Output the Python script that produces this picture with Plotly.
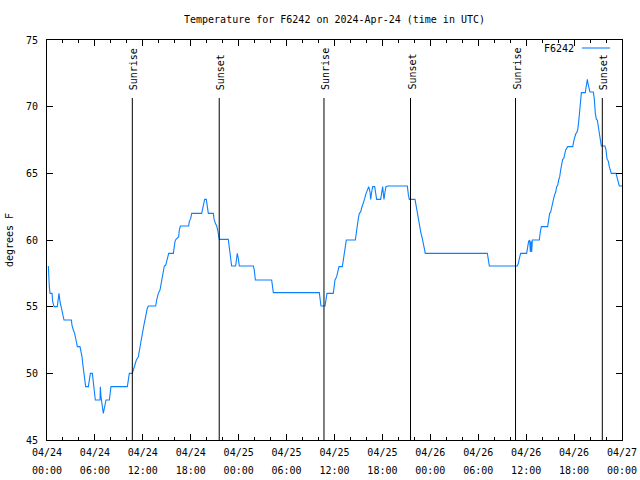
import pandas as pd
import plotly.graph_objects as go

# ---- data (hours since 2024-04-24 00:00 UTC, temperature in degrees F) ----
hours = [
    0.17, 0.20, 0.29, 0.38, 0.63, 0.71, 0.88, 1.29, 1.35, 1.50, 1.63, 1.75, 1.84, 1.96, 2.13,
    3.05, 3.13, 3.30, 3.46, 3.63, 3.80, 4.13, 4.22, 4.38, 4.47, 4.59, 4.72, 4.84, 5.18, 5.30,
    5.43, 5.68, 5.80, 5.93, 6.05, 6.64, 6.68, 6.76, 6.89, 7.05, 7.22, 7.39, 7.81, 7.89, 8.01,
    10.06, 10.18, 10.31, 10.68, 10.81, 11.02, 11.19, 11.44, 11.56, 11.80, 12.10, 12.40, 12.56,
    12.69, 13.61, 13.73, 13.94, 14.15, 14.27, 14.40, 14.57, 14.69, 14.86, 14.99, 15.11, 15.24,
    15.82, 15.90, 16.03, 16.15, 16.49, 16.57, 16.70, 17.74, 17.82, 17.99, 18.12, 19.37, 19.49,
    19.66, 19.74, 19.95, 20.04, 20.20, 20.83, 20.91, 21.08, 21.25, 21.37, 21.50, 21.58, 22.70,
    22.79, 22.92, 23.04, 23.12, 23.62, 23.71, 23.83, 23.96, 24.08, 25.84, 25.96, 26.09, 28.13,
    28.22, 28.34, 34.10, 34.18, 34.31, 34.81, 34.94, 35.06, 35.85, 35.94, 36.06, 36.27, 36.44,
    36.56, 36.98, 37.11, 37.23, 37.36, 37.48, 38.61, 38.69, 38.82, 38.98, 39.11, 39.28, 39.40,
    39.53, 39.65, 39.78, 39.90, 40.03, 40.15, 40.28, 40.45, 40.53, 40.66, 40.78, 41.03, 41.16,
    41.28, 41.78, 41.86, 42.03, 42.11, 42.20, 42.32, 42.45, 42.66, 45.12, 45.25, 45.37, 46.08,
    46.21, 46.33, 46.46, 46.58, 46.71, 46.83, 47.00, 47.12, 47.25, 47.37, 55.14, 55.26, 55.39,
    58.89, 59.02, 59.14, 59.31, 60.06, 60.19, 60.31, 60.44, 60.52, 60.61, 60.69, 60.77, 61.65,
    61.77, 61.90, 62.69, 62.82, 62.94, 63.07, 63.19, 63.32, 63.44, 63.57, 63.70, 63.82, 63.95,
    64.07, 64.20, 64.32, 64.45, 64.57, 64.70, 64.82, 64.95, 65.20, 65.83, 65.95, 66.08, 66.20,
    66.33, 66.45, 66.58, 66.70, 66.83, 66.91, 67.41, 67.49, 67.58, 67.66, 67.74, 67.83, 67.99,
    68.41, 68.53, 68.66, 68.79, 68.91, 69.04, 69.16, 69.29, 69.41, 69.87, 70.00, 70.12, 70.29,
    70.41, 70.54, 70.66, 71.25, 71.33, 71.41, 71.54, 71.66, 72.00,
]
temps = [
    58.05, 57.5, 56.5, 56.0, 56.0, 55.37, 55.0, 55.0, 55.37, 56.0, 55.37, 55.0, 54.62, 54.25, 54.0,
    54.0, 53.6, 53.25, 53.0, 52.5, 52.0, 52.0, 51.75, 51.25, 50.75, 50.25, 49.75, 49.0, 49.0, 49.6,
    50.0, 50.0, 49.25, 48.75, 48.0, 48.0, 49.0, 48.25, 47.75, 47.0, 47.5, 48.0, 48.0, 48.5, 49.0,
    49.0, 49.6, 50.0, 50.0, 50.25, 50.75, 51.0, 51.25, 51.75, 52.5, 53.5, 54.5, 54.88,
    55.05, 55.05, 55.5, 56.0, 56.25, 56.6, 57.1, 57.75, 58.05, 58.1, 58.5, 58.75, 59.0,
    59.0, 59.5, 59.9, 60.05, 60.25, 60.75, 61.05, 61.05, 61.4, 61.6, 62.0, 62.0, 62.4,
    62.7, 63.05, 63.05, 62.75, 62.0, 62.0, 61.6, 61.25, 61.05, 60.75, 60.4, 60.05, 60.05,
    59.5, 58.75, 58.25, 58.05, 58.05, 58.6, 59.0, 58.6, 58.05, 58.05, 57.75, 57.0, 57.0,
    56.6, 56.05, 56.05, 55.6, 55.05, 55.05, 55.6, 56.0, 56.0, 56.6, 57.0, 57.25, 57.6,
    58.0, 58.0, 58.5, 58.9, 59.25, 60.0, 60.0, 60.4, 61.1, 61.6, 62.0, 62.1, 62.4,
    62.6, 62.9, 63.1, 63.4, 63.6, 63.9, 64.0, 63.6, 63.05, 63.6, 64.0, 64.0, 63.6,
    63.05, 63.05, 63.5, 64.0, 63.5, 63.05, 63.6, 64.0, 64.05, 64.05, 63.4, 63.05, 63.05,
    62.6, 62.0, 61.5, 61.1, 60.9, 60.5, 60.1, 59.75, 59.4, 59.0, 59.0, 58.5, 58.05,
    58.05, 58.25, 58.6, 59.0, 59.0, 59.4, 59.9, 60.0, 59.1, 59.9, 59.1, 60.0, 60.0,
    60.6, 61.0, 61.0, 61.4, 62.0, 62.1, 62.5, 62.9, 63.1, 63.4, 63.6, 64.0, 64.1,
    64.5, 64.75, 65.25, 65.75, 66.05, 66.1, 66.4, 66.75, 67.0, 67.0, 67.4, 67.75, 67.95,
    68.05, 68.25, 68.9, 69.5, 70.5, 71.05, 71.05, 71.4, 71.75, 72.05, 71.75, 71.4, 71.1,
    71.1, 70.6, 69.5, 69.05, 69.0, 68.5, 67.9, 67.25, 67.05, 67.05, 66.75, 66.1, 65.9,
    65.5, 65.1, 65.0, 65.0, 64.8, 64.55, 64.25, 64.05, 64.05,
]

sunrise_times = ["2024-04-24 10:41", "2024-04-25 10:41", "2024-04-26 10:40"]
sunset_times = ["2024-04-24 21:34", "2024-04-25 21:31", "2024-04-26 21:32"]

x_tick_vals = ["2024-04-24 00:00", "2024-04-24 06:00", "2024-04-24 12:00", "2024-04-24 18:00",
               "2024-04-25 00:00", "2024-04-25 06:00", "2024-04-25 12:00", "2024-04-25 18:00",
               "2024-04-26 00:00", "2024-04-26 06:00", "2024-04-26 12:00", "2024-04-26 18:00",
               "2024-04-27 00:00"]
x_tick_dates = ["04/24", "04/24", "04/24", "04/24", "04/25", "04/25", "04/25", "04/25",
                "04/26", "04/26", "04/26", "04/26", "04/27"]
x_tick_clock = ["00:00", "06:00", "12:00", "18:00", "00:00", "06:00", "12:00", "18:00",
                "00:00", "06:00", "12:00", "18:00", "00:00"]
y_tick_vals = [45, 50, 55, 60, 65, 70, 75]

series_name = "F6242"
title_text = "Temperature for F6242 on 2024-Apr-24 (time in UTC)"

# ---- figure ----
LINE_COLOR = "#0a80ff"
FONT = "DejaVu Sans Mono"
base = pd.Timestamp("2024-04-24 00:00")
times = [base + pd.Timedelta(hours=h) for h in hours]
x_range = ["2024-04-24 00:00", "2024-04-27 00:00"]
y_range = [45, 75]

fig = go.Figure()
fig.add_trace(go.Scatter(x=times, y=temps, mode="lines", name=series_name,
                         line=dict(color=LINE_COLOR, width=1.1), showlegend=False,
                         hoverinfo="skip"))
# empty trace that only carries the second row of time labels
fig.add_trace(go.Scatter(x=[], y=[], xaxis="x2", yaxis="y2", showlegend=False, hoverinfo="skip"))

top_line = (440 - 98) / 400
label_y = (440 - 92) / 400
for t, lab in [(s, "Sunrise") for s in sunrise_times] + [(s, "Sunset") for s in sunset_times]:
    fig.add_shape(type="line", xref="x", yref="paper", x0=t, x1=t, y0=0, y1=top_line,
                  line=dict(color="black", width=1))
    fig.add_annotation(x=t, xref="x", y=label_y, yref="paper", text=lab, textangle=-90,
                       showarrow=False, xanchor="center", yanchor="bottom", xshift=1,
                       font=dict(family=FONT, size=10, color="black"))

# legend (gnuplot style: text then sample)
fig.add_annotation(x=(576 - 47) / 575, xref="paper", y=(440 - 48) / 400, yref="paper",
                   text=series_name, showarrow=False, xanchor="right", yanchor="middle",
                   font=dict(family=FONT, size=10, color="black"))
fig.add_shape(type="line", xref="paper", yref="paper", x0=(582 - 47) / 575, x1=(610 - 47) / 575,
              y0=(440 - 48) / 400, y1=(440 - 48) / 400, line=dict(color=LINE_COLOR, width=1.1))

fig.update_layout(
    width=640, height=480,
    margin=dict(l=47, r=18, t=40, b=40, autoexpand=False),
    paper_bgcolor="white", plot_bgcolor="white",
    font=dict(family=FONT, size=10, color="black"),
    title=dict(text=title_text, x=(334.5) / 640, xanchor="center", y=1 - 19 / 480, yanchor="middle",
               font=dict(family=FONT, size=10, color="black")),
    showlegend=False,
    xaxis=dict(
        type="date", range=x_range, automargin=False,
        tickmode="array", tickvals=x_tick_vals, ticktext=x_tick_dates,
        ticks="inside", ticklen=6, tickcolor="black", tickwidth=1,
        showline=True, linecolor="black", linewidth=1, mirror="allticks",
        showgrid=False, zeroline=False, ticklabelstandoff=3,
        minor=dict(tickmode="linear", tick0="2024-04-24 00:00", dtick=2 * 3600 * 1000,
                   ticks="inside", ticklen=3, tickcolor="black", showgrid=False),
        tickfont=dict(family=FONT, size=10, color="black"),
    ),
    xaxis2=dict(
        type="date", range=x_range, overlaying="x", side="bottom", anchor="y2", automargin=False,
        tickmode="array", tickvals=x_tick_vals, ticktext=x_tick_clock,
        ticks="", showline=False, showgrid=False, zeroline=False, ticklabelstandoff=23,
        tickfont=dict(family=FONT, size=10, color="black"),
    ),
    yaxis=dict(
        range=y_range, tickmode="array", tickvals=y_tick_vals, automargin=False,
        ticks="inside", ticklen=6, tickcolor="black", tickwidth=1,
        showline=True, linecolor="black", linewidth=1, mirror="allticks",
        showgrid=False, zeroline=False, ticklabelstandoff=6,
        title=dict(text="degrees F", font=dict(family=FONT, size=10, color="black"), standoff=10),
        tickfont=dict(family=FONT, size=10, color="black"),
    ),
    yaxis2=dict(
        range=y_range, overlaying="y", side="left", automargin=False,
        showticklabels=False, ticks="", showline=False, showgrid=False, zeroline=False,
    ),
)

fig.write_html("out.html", post_script="document.body.style.margin='0';",
               config={"displayModeBar": False})
